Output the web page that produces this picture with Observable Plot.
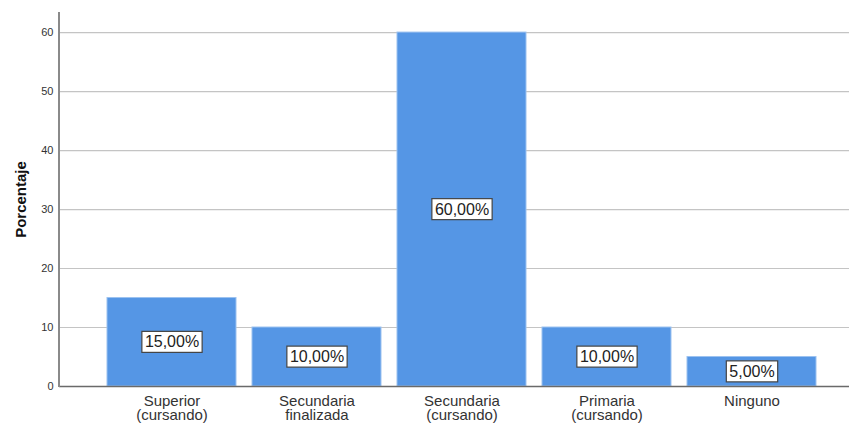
<!DOCTYPE html>
<html>
<head>
<meta charset="utf-8">
<script src="https://cdn.jsdelivr.net/npm/d3@7"></script>
<script src="https://cdn.jsdelivr.net/npm/@observablehq/plot@0.6"></script>
<style>
  html, body { margin: 0; padding: 0; background: #fff; }
  #chart { width: 849px; height: 423px; }
  svg { font-family: "Liberation Sans", Arial, sans-serif; }
</style>
</head>
<body>
<div id="chart"></div>
<script>
// Nivel educativo: categories, percentages and axis tick labels
const categories = [
  "Superior (cursando)",
  "Secundaria finalizada",
  "Secundaria (cursando)",
  "Primaria (cursando)",
  "Ninguno"
];
const percentages = [15, 10, 60, 10, 5];
const categoryLabels = [
  "Superior\n(cursando)",
  "Secundaria\nfinalizada",
  "Secundaria\n(cursando)",
  "Primaria\n(cursando)",
  "Ninguno"
];
const yTicks = [0, 10, 20, 30, 40, 50, 60];
const yLabel = "Porcentaje";

const rows = categories.map((c, i) => ({category: c, value: percentages[i]}));
const labelOf = new Map(categories.map((c, i) => [c, categoryLabels[i]]));
const fmt = v => v.toFixed(2).replace(".", ",") + "%";

const W = 849, H = 423;
const mLeft = 59, mTop = 12, mBottom = 37;

// vertical axis line along the left edge of the frame
function leftAxisLine(index, scales, values, dims) {
  const g = d3.create("svg:line")
    .attr("x1", dims.marginLeft).attr("x2", dims.marginLeft)
    .attr("y1", dims.marginTop).attr("y2", dims.height - dims.marginBottom + 1)
    .attr("stroke", "#8a8a8a").attr("stroke-width", 2);
  return g.node();
}

const chart = Plot.plot({
  width: W,
  height: H,
  marginLeft: mLeft,
  marginRight: 0,
  marginTop: mTop,
  marginBottom: mBottom,
  style: {fontFamily: "'Liberation Sans', Arial, sans-serif", background: "#fff", overflow: "visible"},
  x: {domain: categories, range: [99, 824], paddingInner: 0.11, paddingOuter: 0.055},
  y: {domain: [0, 63.4], ticks: yTicks},
  marks: [
    Plot.gridY(yTicks, {stroke: "#c4c4c4", strokeOpacity: 1, strokeWidth: 1.2}),
    Plot.barY(rows, {x: "category", y: "value", fill: "#5596e5", stroke: "#9cc2f0", strokeWidth: 1, inset: 0}),
    Plot.ruleY([0], {stroke: "#6a6a6a", strokeWidth: 1.5}),
    leftAxisLine,
    Plot.axisY(yTicks, {tickSize: 0, tickPadding: 6, fontSize: 11, fill: "#333", label: null}),
    Plot.axisX({tickSize: 0, tickPadding: 10, fontSize: 15, fill: "#333", lineHeight: 0.92,
      tickFormat: c => labelOf.get(c), label: null}),
    Plot.text([yLabel], {frameAnchor: "left", dx: -38, rotate: -90, text: d => d,
      textAnchor: "middle", fontSize: 15, fontWeight: "bold", fill: "#111", lineAnchor: "middle"}),
    Plot.text(rows, {x: "category", y: d => d.value / 2, text: d => fmt(d.value),
      fontSize: 16, fill: "#222", lineAnchor: "middle", className: "value-label"})
  ]
});

document.getElementById("chart").appendChild(chart);

// framed white boxes behind the value labels
const svgNS = "http://www.w3.org/2000/svg";
chart.querySelectorAll(".value-label text").forEach(t => {
  const b = t.getBBox();
  const r = document.createElementNS(svgNS, "rect");
  r.setAttribute("x", b.x - 3);
  r.setAttribute("y", b.y - 2);
  r.setAttribute("width", b.width + 6);
  r.setAttribute("height", b.height + 4);
  r.setAttribute("fill", "#fff");
  r.setAttribute("stroke", "#444");
  r.setAttribute("stroke-width", 1.2);
  const tr = t.getAttribute("transform");
  if (tr) r.setAttribute("transform", tr);
  t.parentNode.insertBefore(r, t);
});
</script>
</body>
</html>
